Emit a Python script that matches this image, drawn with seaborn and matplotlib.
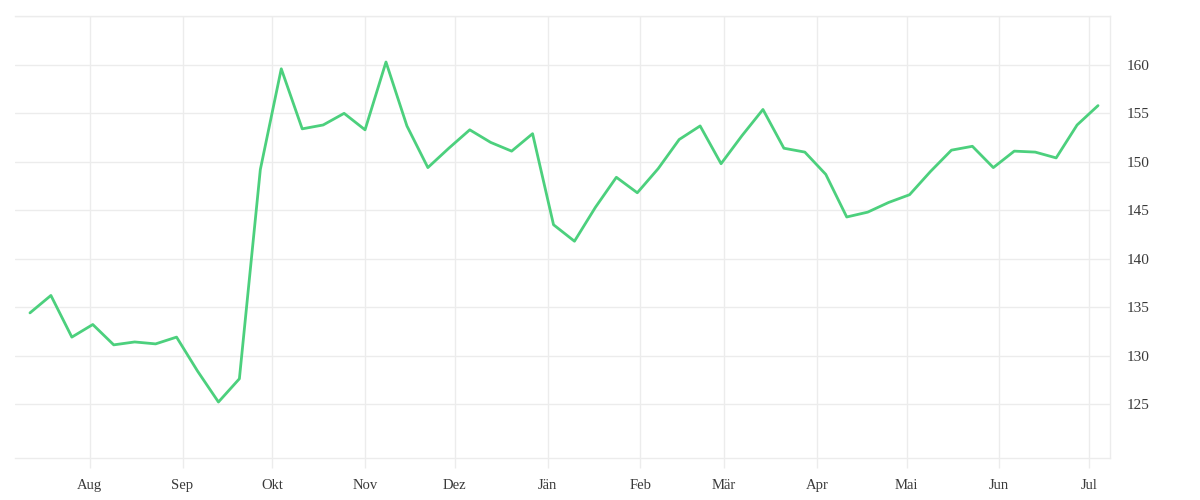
import pandas as pd
import matplotlib.pyplot as plt
import matplotlib.dates as mdates
import matplotlib.ticker as mticker
import seaborn as sns

# weekly values, mid July to early July
start = "2022-07-12"
values = [
    134.4, 136.2, 131.9, 133.2, 131.1, 131.4, 131.2, 131.9, 128.4, 125.2,
    127.6, 149.2, 159.6, 153.4, 153.8, 155.0, 153.3, 160.3, 153.7, 149.4,
    151.4, 153.3, 152.0, 151.1, 152.9, 143.5, 141.8, 145.3, 148.4, 146.8,
    149.3, 152.3, 153.7, 149.8, 152.7, 155.4, 151.4, 151.0, 148.7, 144.3,
    144.8, 145.8, 146.6, 149.0, 151.2, 151.6, 149.4, 151.1, 151.0, 150.4,
    153.8, 155.8,
]
month_labels = ["Jän", "Feb", "Mär", "Apr", "Mai", "Jun",
                "Jul", "Aug", "Sep", "Okt", "Nov", "Dez"]
y_ticks = [125, 130, 135, 140, 145, 150, 155, 160, 165]

df = pd.DataFrame({
    "date": pd.date_range(start, periods=len(values), freq="7D"),
    "value": values,
})

sns.set_style("white")
plt.rcParams["font.family"] = ["Liberation Serif", "DejaVu Serif"]

grid_c = "#ececec"
text_c = "#3a3a3a"

fig = plt.figure(figsize=(12, 5), dpi=100)
ax = fig.add_axes([15 / 1200, 42 / 500, 1095 / 1200, 442 / 500])

sns.lineplot(data=df, x="date", y="value", ax=ax, color="#4cd07d", linewidth=2.0)

ax.set_xlim(pd.Timestamp("2022-07-07"), pd.Timestamp("2023-07-08"))
ax.set_ylim(119.42, 165.05)

ax.xaxis.set_major_locator(mdates.MonthLocator())
ax.xaxis.set_major_formatter(
    mticker.FuncFormatter(lambda x, pos: month_labels[mdates.num2date(x).month - 1]))
ax.set_yticks(y_ticks)
ax.set_yticklabels([str(t) if t < 165 else "" for t in y_ticks])

ax.yaxis.tick_right()
ax.grid(True, color=grid_c, linewidth=1)
for side in ["top", "bottom", "right"]:
    ax.spines[side].set_visible(True)
    ax.spines[side].set_color(grid_c)
    ax.spines[side].set_linewidth(1)
ax.spines["left"].set_visible(False)

ax.tick_params(axis="x", which="major", bottom=True, top=False, length=7.2,
               width=1, color=grid_c, pad=8, labelsize=10.5, labelcolor=text_c)
ax.tick_params(axis="y", right=True, left=False, length=0, pad=12,
               labelsize=11, labelcolor=text_c)

ax.set_xlabel("")
ax.set_ylabel("")

plt.savefig("out.png", dpi=100)
plt.close()
